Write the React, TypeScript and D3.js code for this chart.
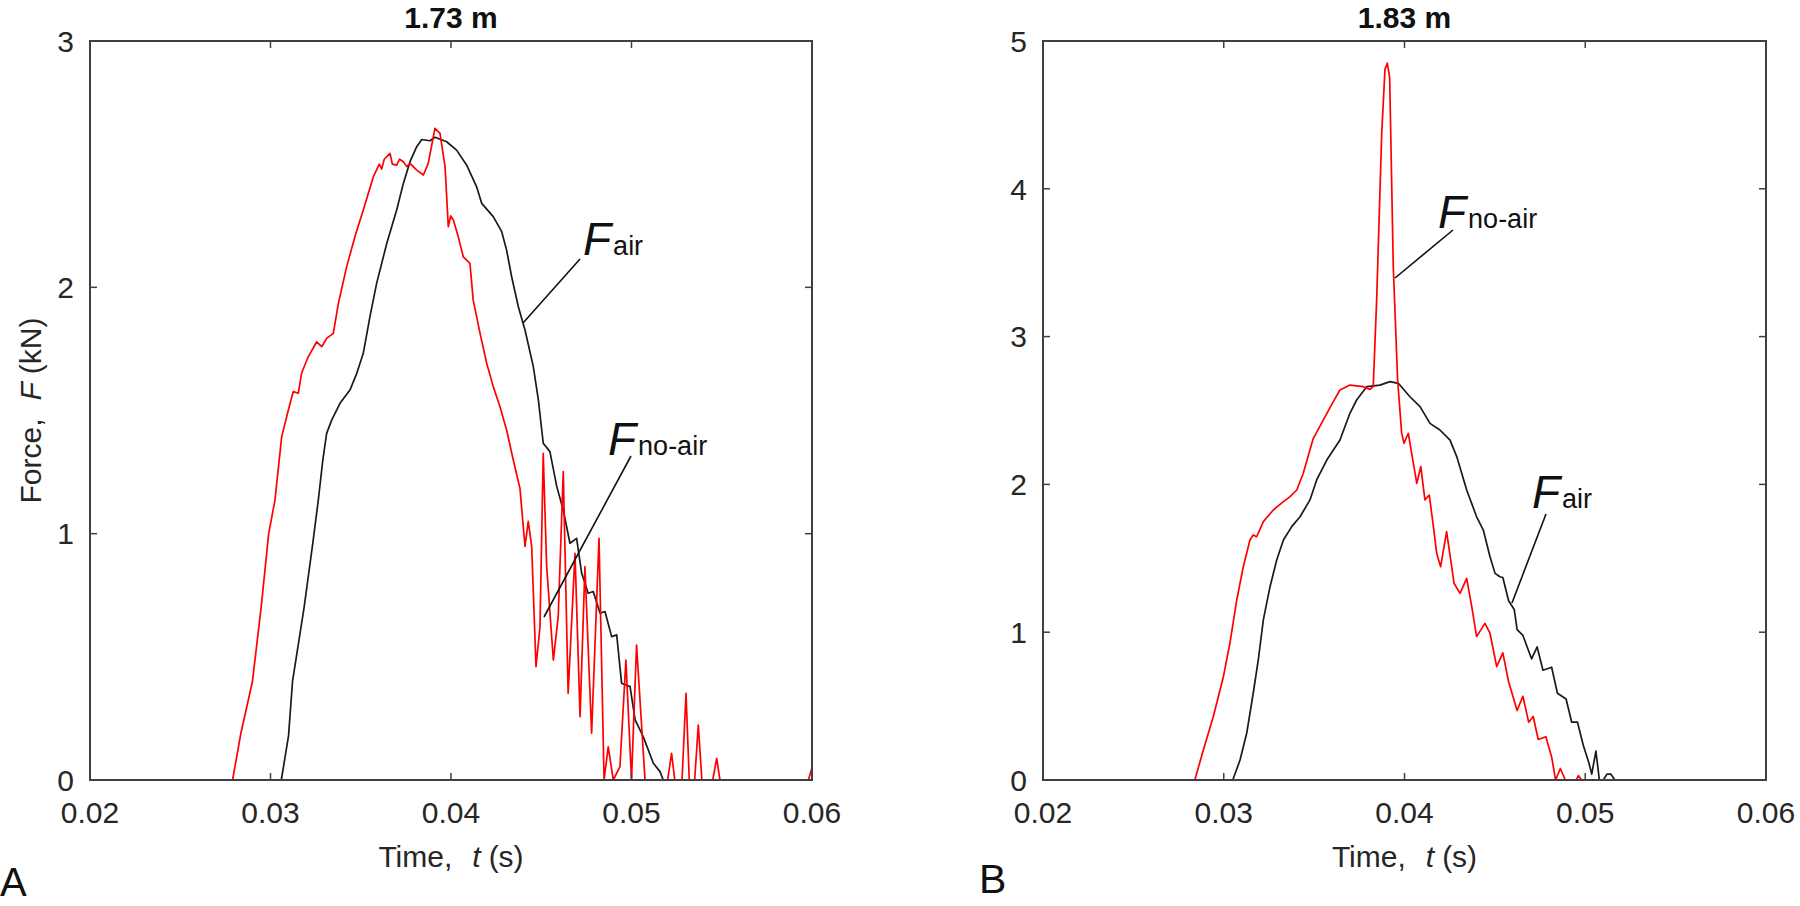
import React from 'react';
import * as d3 from 'd3';

// ---------- data ----------
const xTicks = [0.02, 0.03, 0.04, 0.05, 0.06];
const yTicksA = [0, 1, 2, 3];
const yTicksB = [0, 1, 2, 3, 4, 5];
const titles = ['1.73 m', '1.83 m'];
const panelLetters = ['A', 'B'];

// Panel A (1.73 m) – F_air (black)
const airA: [number, number][] = [
  [0.02, 0], [0.024, 0], [0.028, 0], [0.0306, 0], [0.0310, 0.18], [0.03122, 0.40], [0.03186, 0.70],
  [0.03234, 0.96], [0.03265, 1.137], [0.0329, 1.30], [0.03311, 1.407], [0.03339, 1.461],
  [0.03385, 1.529], [0.0344, 1.583], [0.03478, 1.651], [0.03514, 1.732], [0.03551, 1.881],
  [0.03588, 2.016], [0.03644, 2.178], [0.03699, 2.314], [0.03736, 2.422], [0.03773, 2.51],
  [0.0381, 2.571], [0.03838, 2.60], [0.03884, 2.595], [0.03911, 2.609], [0.03976, 2.591],
  [0.04031, 2.557], [0.04087, 2.496], [0.04142, 2.408], [0.0417, 2.341], [0.04234, 2.287],
  [0.04281, 2.226], [0.04308, 2.151], [0.04336, 2.043], [0.04373, 1.921], [0.0441, 1.827],
  [0.04456, 1.678], [0.04484, 1.543], [0.04511, 1.367], [0.04548, 1.333], [0.04586, 1.191],
  [0.04622, 1.096], [0.04659, 0.961], [0.04696, 0.981], [0.04724, 0.839], [0.0476, 0.758],
  [0.04788, 0.765], [0.04826, 0.677], [0.04853, 0.684], [0.0489, 0.582], [0.04918, 0.589],
  [0.04945, 0.393], [0.04992, 0.379], [0.0502, 0.244], [0.05065, 0.176], [0.05121, 0.068],
  [0.05158, 0.034], [0.05176, 0], [0.06, 0],
];

// Panel A (1.73 m) – F_no-air (red)
const noAirA: [number, number][] = [
  [0.02, 0], [0.0279, 0], [0.02836, 0.19], [0.029, 0.40], [0.02948, 0.70], [0.0299, 1.0],
  [0.03025, 1.137], [0.03062, 1.394], [0.03099, 1.502], [0.03126, 1.577], [0.03154, 1.570],
  [0.03172, 1.651], [0.03209, 1.718], [0.03256, 1.779], [0.03284, 1.759], [0.03311, 1.793],
  [0.03348, 1.813], [0.03376, 1.935], [0.03422, 2.084], [0.03468, 2.206], [0.03514, 2.314],
  [0.0357, 2.449], [0.03603, 2.50], [0.03616, 2.48], [0.0363, 2.52], [0.03662, 2.544],
  [0.03675, 2.50], [0.03699, 2.496], [0.03715, 2.52], [0.03736, 2.51], [0.03755, 2.49],
  [0.03773, 2.503], [0.0381, 2.476], [0.03847, 2.456], [0.03874, 2.503], [0.03911, 2.645],
  [0.03939, 2.625], [0.03967, 2.49], [0.03985, 2.246], [0.03998, 2.29], [0.04013, 2.273],
  [0.0404, 2.206], [0.04068, 2.124], [0.04105, 2.097], [0.04123, 1.948], [0.04161, 1.813],
  [0.04198, 1.691], [0.04234, 1.597], [0.04271, 1.516], [0.04308, 1.421], [0.04345, 1.299],
  [0.04382, 1.184], [0.0441, 0.948], [0.04428, 1.05], [0.04447, 0.948], [0.04471, 0.46],
  [0.04493, 0.622], [0.04511, 1.326], [0.0453, 0.866], [0.04567, 0.487], [0.04594, 0.663],
  [0.04622, 1.252], [0.04649, 0.352], [0.04687, 0.92], [0.04715, 0.257], [0.04742, 0.866],
  [0.04779, 0.19], [0.0482, 0.981], [0.04848, 0], [0.04871, 0.135], [0.04899, 0],
  [0.04936, 0.054], [0.04969, 0.487], [0.05, 0], [0.05028, 0.548], [0.05075, 0],
  [0.052, 0], [0.05222, 0.108], [0.0524, 0], [0.0528, 0], [0.05302, 0.352], [0.0532, 0],
  [0.0535, 0], [0.0537, 0.223], [0.0539, 0], [0.0545, 0], [0.05472, 0.088], [0.0549, 0],
  [0.0598, 0], [0.06, 0.05],
];

// Panel B (1.83 m) – F_air (black)
const airB: [number, number][] = [
  [0.02, 0], [0.0305, 0], [0.0309, 0.135], [0.03127, 0.316], [0.03163, 0.587], [0.03191, 0.812],
  [0.03219, 1.083], [0.03256, 1.308], [0.03293, 1.488], [0.0333, 1.624], [0.03376, 1.714],
  [0.03422, 1.781], [0.03477, 1.895], [0.03514, 2.03], [0.0357, 2.165], [0.03643, 2.30],
  [0.03698, 2.481], [0.03735, 2.571], [0.03791, 2.661], [0.03864, 2.672], [0.0392, 2.695],
  [0.03966, 2.684], [0.0403, 2.593], [0.04086, 2.526], [0.04141, 2.413], [0.04196, 2.368],
  [0.04252, 2.30], [0.04289, 2.188], [0.04344, 1.962], [0.04399, 1.781], [0.04436, 1.691],
  [0.04473, 1.511], [0.04501, 1.398], [0.04528, 1.375], [0.04544, 1.37], [0.04576, 1.213],
  [0.04607, 1.154], [0.04623, 1.017], [0.04655, 0.978], [0.04703, 0.82], [0.04734, 0.90],
  [0.04766, 0.743], [0.04814, 0.763], [0.04846, 0.587], [0.04894, 0.548], [0.04925, 0.391],
  [0.04957, 0.391], [0.04989, 0.235], [0.0502, 0.117], [0.05036, 0.04], [0.05059, 0.196],
  [0.05078, 0], [0.051, 0], [0.0512, 0.04], [0.05141, 0.04], [0.05164, 0], [0.06, 0],
];

// Panel B (1.83 m) – F_no-air (red)
const noAirB: [number, number][] = [
  [0.02, 0], [0.0284, 0], [0.02887, 0.203], [0.02942, 0.428], [0.02998, 0.699], [0.03034, 0.925],
  [0.03072, 1.218], [0.03108, 1.443], [0.03145, 1.624], [0.03163, 1.658], [0.03182, 1.646],
  [0.03219, 1.748], [0.03274, 1.827], [0.0333, 1.883], [0.03367, 1.917], [0.03404, 1.962],
  [0.0344, 2.075], [0.03495, 2.31], [0.03551, 2.436], [0.03606, 2.56], [0.03643, 2.639],
  [0.03698, 2.672], [0.03772, 2.661], [0.03809, 2.643], [0.03827, 2.661], [0.03846, 3.25],
  [0.03874, 4.375], [0.03892, 4.81], [0.03905, 4.85], [0.03918, 4.75], [0.03925, 4.3],
  [0.03938, 3.47], [0.03962, 2.706], [0.03984, 2.35], [0.03997, 2.278], [0.04021, 2.346],
  [0.04049, 2.142], [0.04068, 2.007], [0.0409, 2.12], [0.04113, 1.895], [0.04137, 1.928],
  [0.0416, 1.714], [0.04178, 1.534], [0.042, 1.443], [0.04233, 1.68], [0.04261, 1.443],
  [0.04274, 1.331], [0.04307, 1.263], [0.04344, 1.364], [0.04372, 1.173], [0.04399, 0.97],
  [0.04445, 1.06], [0.04473, 0.993], [0.0451, 0.767], [0.04544, 0.86], [0.04576, 0.665],
  [0.04623, 0.47], [0.04655, 0.567], [0.04687, 0.391], [0.04712, 0.43], [0.0474, 0.274],
  [0.04782, 0.293], [0.04814, 0.156], [0.04836, 0], [0.04862, 0.078], [0.0489, 0],
  [0.0495, 0], [0.04962, 0.03], [0.0498, 0], [0.06, 0],
];

// annotation leader lines: [label end (t,F), tip on curve (t,F)]
const annA = [
  { sub: 'air', end: [0.047147, 2.115], tip: [0.043989, 1.8552] },
  { sub: 'no-air', end: [0.049972, 1.3153], tip: [0.045152, 0.6617] },
];
const annB = [
  { sub: 'no-air', end: [0.042683, 3.7212], tip: [0.039475, 3.3965] },
  { sub: 'air', end: [0.047828, 1.7997], tip: [0.045947, 1.1976] },
];

// ---------- layout ----------
const FONT = "'Liberation Sans', Arial, Helvetica, sans-serif";
const TOP = 41;
const BOTTOM = 780;
const labelOffsets = [
  [{ dx: 3, dy: -4 }, { dx: -23, dy: -1 }],
  [{ dx: -15, dy: -2 }, { dx: -14, dy: -6 }],
];

type PanelProps = {
  idx: number;
  x0: number;
  x1: number;
  yTicks: number[];
  air: [number, number][];
  noAir: [number, number][];
  ann: { sub: string; end: number[]; tip: number[] }[];
  showYLabel: boolean;
};

function Panel({ idx, x0, x1, yTicks, air, noAir, ann, showYLabel }: PanelProps) {
  const x = d3.scaleLinear().domain([0.02, 0.06]).range([x0, x1]);
  const y = d3.scaleLinear().domain([0, yTicks[yTicks.length - 1]]).range([BOTTOM, TOP]);
  const line = d3
    .line<[number, number]>()
    .x((d) => x(d[0]))
    .y((d) => y(d[1]));
  const cx = (x0 + x1) / 2;
  const tickLen = 7;
  const axisColor = '#404040';
  const textColor = '#262626';
  return (
    <g>
      <path d={line(air) || ''} fill="none" stroke="#1a1a1a" strokeWidth={1.7} strokeLinejoin="round" />
      <path d={line(noAir) || ''} fill="none" stroke="#ff0000" strokeWidth={1.7} strokeLinejoin="round" />
      <rect x={x0} y={TOP} width={x1 - x0} height={BOTTOM - TOP} fill="none" stroke={axisColor} strokeWidth={2} />
      {xTicks.map((t) => (
        <g key={'xt' + t}>
          <line x1={x(t)} x2={x(t)} y1={BOTTOM} y2={BOTTOM - tickLen} stroke={axisColor} strokeWidth={1.5} />
          <line x1={x(t)} x2={x(t)} y1={TOP} y2={TOP + tickLen} stroke={axisColor} strokeWidth={1.5} />
          <text x={x(t)} y={823} textAnchor="middle" fontSize={30} fill={textColor}>
            {t.toFixed(2)}
          </text>
        </g>
      ))}
      {yTicks.map((v) => (
        <g key={'yt' + v}>
          <line x1={x0} x2={x0 + tickLen} y1={y(v)} y2={y(v)} stroke={axisColor} strokeWidth={1.5} />
          <line x1={x1} x2={x1 - tickLen} y1={y(v)} y2={y(v)} stroke={axisColor} strokeWidth={1.5} />
          <text x={x0 - 16} y={y(v)} dy="0.36em" textAnchor="end" fontSize={30} fill={textColor}>
            {v}
          </text>
        </g>
      ))}
      <text x={cx} y={28} textAnchor="middle" fontSize={30} fontWeight="bold" fill="#111">
        {titles[idx]}
      </text>
      <text x={cx} y={867} textAnchor="middle" fontSize={30} fill={textColor}>
        <tspan>Time,</tspan>
        <tspan dx={20} fontStyle="italic">t</tspan>
        <tspan dx={8}>(s)</tspan>
      </text>
      {showYLabel && (
        <text transform={`translate(41,${(TOP + BOTTOM) / 2}) rotate(-90)`} textAnchor="middle" fontSize={30} fill={textColor}>
          <tspan>Force,</tspan>
          <tspan dx={18} fontStyle="italic">F</tspan>
          <tspan dx={8}>(kN)</tspan>
        </text>
      )}
      {ann.map((a, i) => {
        const ex = x(a.end[0]);
        const ey = y(a.end[1]);
        const off = labelOffsets[idx][i];
        return (
          <g key={'ann' + i}>
            <line x1={ex} y1={ey} x2={x(a.tip[0])} y2={y(a.tip[1])} stroke="#111" strokeWidth={1.6} />
            <text x={ex + off.dx} y={ey + off.dy} fill="#111">
              <tspan fontStyle="italic" fontSize={46}>F</tspan>
              <tspan fontSize={27} dx={2}>{a.sub}</tspan>
            </text>
          </g>
        );
      })}
    </g>
  );
}

export default function App() {
  return (
    <svg
      width={1800}
      height={906}
      viewBox="0 0 1800 906"
      style={{ position: 'absolute', left: 0, top: 0, background: '#fff' }}
      fontFamily={FONT}
    >
      <rect x={0} y={0} width={1800} height={906} fill="#fff" />
      <Panel idx={0} x0={90} x1={812} yTicks={yTicksA} air={airA} noAir={noAirA} ann={annA} showYLabel={true} />
      <Panel idx={1} x0={1043} x1={1766} yTicks={yTicksB} air={airB} noAir={noAirB} ann={annB} showYLabel={false} />
      <text x={0} y={896} fontSize={40} fill="#111">{panelLetters[0]}</text>
      <text x={979} y={893} fontSize={41} fill="#111">{panelLetters[1]}</text>
    </svg>
  );
}
